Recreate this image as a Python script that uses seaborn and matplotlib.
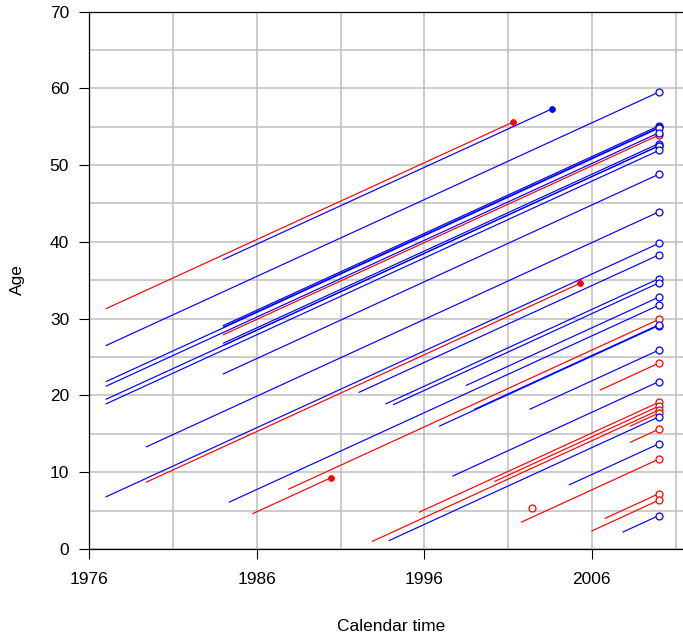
import numpy as np
import pandas as pd
import matplotlib
matplotlib.use("Agg")
import matplotlib.pyplot as plt
import seaborn as sns

# Follow-up records: entry date, age at entry, exit date, sex, and whether exit was an event
entry_time = [1977.0, 1984.0, 1977.0, 1984.0, 1984.0, 1977.0, 1977.0, 1984.0, 1984.0, 1984.0,
              1977.0, 1977.0, 1984.0, 1979.4, 1977.0, 1992.1, 1993.7, 1994.15, 1998.5, 1984.35,
              1979.4, 1987.9, 1996.9, 1999.0, 2002.3, 2006.5, 1997.7, 1995.7, 2000.2, 1992.9,
              2008.3, 1993.9, 2008.3, 2004.65, 2001.8, 2006.8, 2006.0, 2007.85, 1985.75, 2002.4]
entry_age = [31.3, 37.7, 26.5, 29.1, 28.9, 21.8, 21.2, 27.9, 26.8, 26.5,
             19.5, 18.9, 22.8, 13.3, 6.8, 20.4, 18.9, 18.8, 21.3, 6.1,
             8.7, 7.8, 16.0, 18.2, 18.2, 20.7, 9.5, 4.8, 8.8, 1.0,
             16.0, 1.1, 13.9, 8.35, 3.5, 4.0, 2.35, 2.2, 4.6, 5.4]
exit_time = [2001.3, 2003.6, 2010.0, 2010.0, 2010.0, 2010.0, 2010.0, 2010.0, 2010.0, 2010.0,
             2010.0, 2010.0, 2010.0, 2010.0, 2010.0, 2010.0, 2010.0, 2010.0, 2010.0, 2010.0,
             2005.3, 2010.0, 2010.0, 2010.0, 2010.0, 2010.0, 2010.0, 2010.0, 2010.0, 2010.0,
             2010.0, 2010.0, 2010.0, 2010.0, 2010.0, 2010.0, 2010.0, 2010.0, 1990.43, 2002.4]
sex = ["F", "M", "M", "M", "M", "M", "M", "F", "M", "M",
       "M", "M", "M", "M", "M", "M", "M", "M", "M", "M",
       "F", "F", "M", "M", "M", "F", "M", "F", "F", "F",
       "F", "M", "F", "M", "F", "F", "F", "M", "F", "F"]
event = [1, 1, 0, 0, 0, 0, 0, 0, 0, 0,
         0, 0, 0, 0, 0, 0, 0, 0, 0, 0,
         1, 0, 0, 0, 0, 0, 0, 0, 0, 0,
         0, 0, 0, 0, 0, 0, 0, 0, 1, 0]

palette = {"F": "#FF0000", "M": "#0000FF"}

recs = pd.DataFrame({"id": range(len(entry_time)), "t0": entry_time, "a0": entry_age,
                     "t1": exit_time, "sex": sex, "event": event})
recs["a1"] = recs["a0"] + (recs["t1"] - recs["t0"])

# Long format: one row per end of each life line
long = pd.concat([
    recs[["id", "sex", "t0", "a0"]].rename(columns={"t0": "time", "a0": "age"}),
    recs[["id", "sex", "t1", "a1"]].rename(columns={"t1": "time", "a1": "age"}),
]).sort_values(["id", "time"])

sns.set_style("white")
plt.rcParams["font.family"] = ["Liberation Sans", "DejaVu Sans"]
plt.rcParams["font.size"] = 12.5
plt.rcParams["text.color"] = "black"
plt.rcParams["axes.labelcolor"] = "black"
plt.rcParams["xtick.color"] = "black"
plt.rcParams["ytick.color"] = "black"

fig = plt.figure(figsize=(6.83, 6.36), dpi=100)
W, H = 683, 636
x0px, x1px = 89.3, 692.3
ytop, ybot = 11.5, 549.0
ax = fig.add_axes([x0px / W, (H - ybot) / H, (x1px - x0px) / W, (ybot - ytop) / H])

sns.lineplot(data=long, x="time", y="age", hue="sex", units="id", estimator=None,
             sort=False, palette=palette, linewidth=0.85, legend=False, ax=ax, zorder=3)

for s, col in palette.items():
    cens = recs[(recs["sex"] == s) & (recs["event"] == 0)]
    ev = recs[(recs["sex"] == s) & (recs["event"] == 1)]
    ax.plot(cens["t1"], cens["a1"], "o", ms=5.0, mfc="white", mec=col, mew=0.9,
            linestyle="none", zorder=4)
    ax.plot(ev["t1"], ev["a1"], "o", ms=4.2, mfc=col, mec=col, mew=0.6,
            linestyle="none", zorder=4)

ax.set_xlim(1976, 2012)
ax.set_ylim(0, 70)
ax.set_xticks([1976, 1986, 1996, 2006])
ax.set_xticks(np.arange(1976, 2013, 5), minor=True)
ax.set_yticks(np.arange(0, 71, 10))
ax.set_yticks(np.arange(0, 71, 5), minor=True)
ax.grid(True, which="both", color="#BEBEBE", linewidth=1.1)
ax.set_axisbelow(True)
ax.tick_params(which="minor", length=0)
ax.tick_params(which="major", direction="out", length=7.5, width=0.8, color="black",
               labelcolor="black", labelsize=12.5, left=True, bottom=True)
ax.tick_params(axis="x", pad=9)
ax.tick_params(axis="y", pad=7)

for side in ["left", "bottom", "top"]:
    ax.spines[side].set_color("black")
    ax.spines[side].set_linewidth(0.9)
ax.spines["right"].set_visible(False)

ax.set_xlabel("Calendar time", fontsize=12.5, color="black")
ax.set_ylabel("Age", fontsize=12.5, color="black")
ax.xaxis.set_label_coords(0.5 - ((x1px - 89.3) / 2 - (391 - 89.3)) / (x1px - x0px), -0.13)
ax.yaxis.set_label_coords(-0.107, 0.5 - (280 - (ytop + ybot) / 2) / (ybot - ytop))

fig.savefig("out.png", dpi=100)
